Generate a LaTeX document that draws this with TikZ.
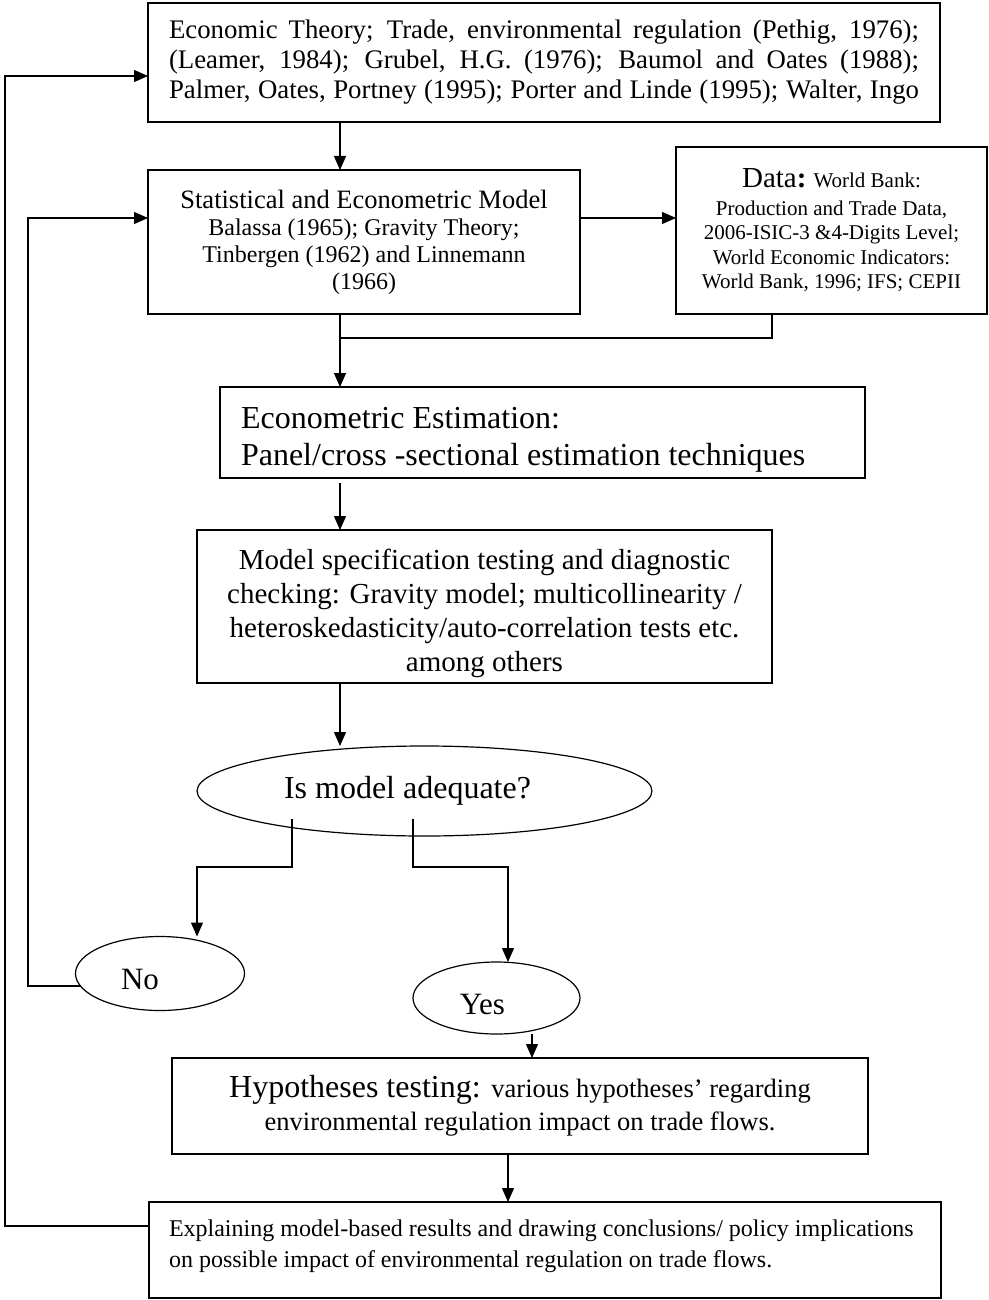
\documentclass[tikz,border=0pt]{standalone}
\usepackage{fontspec}
\setmainfont{Liberation Serif}
\usetikzlibrary{arrows.meta,shapes.geometric,calc}
\begin{document}
\begin{tikzpicture}[x=1pt,y=-1pt,
  every node/.style={inner sep=0pt, outer sep=0pt},
  box/.style={draw, line width=1.2pt, rectangle},
  oval/.style={draw, line width=1.2pt, ellipse},
  link/.style={line width=1.2pt},
  arr/.style={link, -{Triangle[length=14pt,width=12pt]}},
]
\useasboundingbox (0,0) rectangle (988,1300);

% boxes and ovals
\node[box, minimum width=792pt, minimum height=119pt] (theory) at (544,62.5)
  {\fontsize{26.8}{30}\selectfont\parbox{750pt}{\tolerance=10000 \parfillskip=0pt
   Economic Theory; Trade, environmental regulation (Pethig, 1976);\linebreak
   (Leamer, 1984); Grubel, H.G. (1976); Baumol and Oates (1988);\linebreak
   Palmer, Oates, Portney (1995); Porter and Linde (1995); Walter, Ingo}};

\node[box, minimum width=432pt, minimum height=144pt, text width=420pt, align=flush center] (model) at (364,242)
  {{\fontsize{26.5}{29}\selectfont Statistical and Econometric Model\par}
   \fontsize{24}{27}\selectfont Balassa (1965); Gravity Theory;\\
   Tinbergen (1962) and Linnemann\\ (1966)\par};

\node[box, minimum width=311pt, minimum height=167pt, text width=300pt, align=flush center] (data) at (831.5,230.5)
  {\fontsize{21}{24.5}\selectfont{\fontsize{29}{30}\selectfont Data\textbf{:}} World Bank:\\[3pt]
   Production and Trade Data,\\ 2006-ISIC-3 \&4-Digits Level;\\
   World Economic Indicators:\\ World Bank, 1996; IFS; CEPII\par};

% a tall strut on the first line sets the text a little below the middle
\node[box, minimum width=645pt, minimum height=91pt, text width=603pt, align=flush left,
      font=\fontsize{32}{37}\selectfont] (est) at (542.5,432.5)
  {\rule{0pt}{36pt}Econometric Estimation:\\ Panel/cross -sectional estimation techniques\par};

\node[box, minimum width=575pt, minimum height=153pt, text width=565pt, align=flush center,
      font=\fontsize{29}{34}\selectfont] (spec) at (484.5,606.5)
  {\rule{0pt}{34pt}Model specification testing and diagnostic\\
   checking: Gravity model; multicollinearity /\\
   heteroskedasticity/auto-correlation tests etc.\\
   among others\par};

\node[oval, minimum width=455pt, minimum height=90pt, font=\fontsize{32}{36}\selectfont] (adequate) at (424.5,791)
  {Is model adequate?\rule{34pt}{0pt}};

\node[oval, minimum width=169pt, minimum height=74pt, font=\fontsize{31}{34}\selectfont,
      text height=31.6pt, text depth=0pt] (no) at (160,973.5)
  {No\rule{40pt}{0pt}};

\node[oval, minimum width=167pt, minimum height=72pt, font=\fontsize{31}{34}\selectfont,
      text height=32.6pt, text depth=0pt] (yes) at (496.5,998)
  {Yes\rule{28pt}{0pt}};

\node[box, minimum width=696pt, minimum height=96pt, text width=680pt, align=flush center] (hyp) at (520,1106)
  {{\fontsize{32}{33}\selectfont Hypotheses testing: }\fontsize{26.5}{33}\selectfont various hypotheses’ regarding\\
   environmental regulation impact on trade flows.\par};

% a deep strut on the last line lifts the two lines towards the top
\node[box, minimum width=792pt, minimum height=96pt, text width=752pt, align=flush left,
      font=\fontsize{24}{31}\selectfont] (expl) at (545,1250)
  {Explaining model-based results and drawing conclusions/ policy implications\\
   on possible impact of environmental regulation on trade flows.\rule[-13.5pt]{0pt}{1pt}\par};

% tap points on the boxes and the trunk
\coordinate (join) at (340,338);
\coordinate (djoin) at (772,338);
\coordinate (htap) at (508,0);
\path ($(yes.south)+(35.5,0)$) coordinate (ytap);
\path ([yshift=24pt]model.east) coordinate (modelE);
\path ([yshift=24pt]model.west) coordinate (modelW);
\path ([yshift=24pt]expl.west) coordinate (explW);
\path ([yshift=-13.5pt]theory.west) coordinate (theoryW);
\path ($(modelW)+(-120,0)$) coordinate (noTurn);
\path ($(theoryW)+(-143,0)$) coordinate (backTurn);

% connectors
\draw[arr] (theory.south -| join) -- (model.north -| join);
\draw[arr] (modelE) -- (data.west |- modelE);
\draw[link] (model.south -| join) -- (join);
\draw[link] (data.south -| djoin) -- (djoin) -- (join);
\draw[arr] (join) -- (est.north -| join);
\draw[arr] ([yshift=-5pt]est.south -| join) -- (spec.north -| join);
\draw[arr] (spec.south -| join) -- (adequate.north -| join);
\draw[arr] ($(adequate.center)+(-132.5,28)$) -- ++(0,48) -| ($(no.north)+(37,0)$);
\draw[arr] ($(adequate.center)+(-11.5,28)$) -- ++(0,48) -| ($(yes.north)+(11.5,0)$);
\draw[arr] ($(no.center)+(-79.5,12.5)$) -| (noTurn) -- (modelW);
\draw[arr] (ytap) -- (hyp.north -| ytap);
\draw[arr] (hyp.south -| htap) -- (expl.north -| htap);
\draw[arr] (explW) -| (backTurn) -- (theoryW);
\end{tikzpicture}
\end{document}
